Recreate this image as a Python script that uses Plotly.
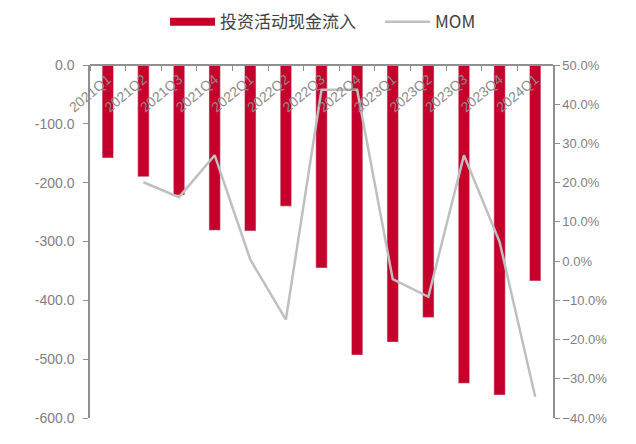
import plotly.graph_objects as go

categories = ["2021Q1", "2021Q2", "2021Q3", "2021Q4", "2022Q1", "2022Q2", "2022Q3",
              "2022Q4", "2023Q1", "2023Q2", "2023Q3", "2023Q4", "2024Q1"]
inflow = [-158, -190, -221, -281, -282, -240, -345, -493, -471, -429, -541, -561, -367]
mom = [None, 0.201, 0.163, 0.27, 0.004, -0.149, 0.437, 0.437, -0.046, -0.091, 0.27, 0.049, -0.346]

left_ticks = [0, -100, -200, -300, -400, -500, -600]
left_labels = ["0.0", "-100.0", "-200.0", "-300.0", "-400.0", "-500.0", "-600.0"]

BAR_COLOR = "#C4002B"
LINE_COLOR = "#BFBFBF"

fig = go.Figure()
fig.add_trace(go.Bar(x=categories, y=inflow, name="投资活动现金流入",
                     marker_color=BAR_COLOR, width=0.32, yaxis="y", showlegend=False))
# legend-only entry drawn as a wide red rectangle like the reference
fig.add_trace(go.Scatter(x=[None], y=[None], name="投资活动现金流入", mode="lines",
                         line=dict(color=BAR_COLOR, width=8), yaxis="y"))
fig.add_trace(go.Scatter(x=categories, y=mom, name="MOM", mode="lines",
                         line=dict(color=LINE_COLOR, width=2.5), yaxis="y2"))

fig.update_layout(
    width=636, height=444,
    margin=dict(l=82, r=91, t=57, b=34, autoexpand=False),
    plot_bgcolor="white", paper_bgcolor="white",
    font=dict(family="Liberation Sans, Noto Sans CJK SC, sans-serif", color="#595959", size=13),
    showlegend=True,
    legend=dict(orientation="h", xref="container", yref="container",
                x=0.585, xanchor="center", y=0.968, yanchor="middle",
                font=dict(size=17, color="#404040", family="Noto Sans CJK SC, Liberation Sans"),
                itemwidth=45, entrywidth=155, traceorder="normal", tracegroupgap=0),
    xaxis=dict(anchor="free", position=1, side="bottom", automargin=False,
               type="category", showline=True, linecolor="#909090", linewidth=1.5,
               ticks="outside", tickson="boundaries", ticklen=5, tickcolor="#909090",
               tickangle=-40, tickfont=dict(size=14, color="#8C8C8C"),
               showgrid=False, zeroline=False),
    yaxis=dict(range=[-600, 0], tickvals=left_ticks, ticktext=left_labels, automargin=False,
               showline=True, linecolor="#909090", linewidth=1.5, ticks="outside",
               ticklen=5, tickcolor="#909090", showgrid=False, zeroline=False,
               tickfont=dict(size=14, color="#7F7F7F"), ticklabelstandoff=6),
    yaxis2=dict(range=[-0.4, 0.5], dtick=0.1, tickformat=".1%", automargin=False,
                overlaying="y", side="right", anchor="x", showline=True,
                linecolor="#909090", linewidth=1.5, ticks="outside", ticklen=5,
                tickcolor="#909090", showgrid=False, zeroline=False,
                tickfont=dict(size=13, color="#7F7F7F")),
    bargap=0.68,
)

fig.write_html("out.html")
